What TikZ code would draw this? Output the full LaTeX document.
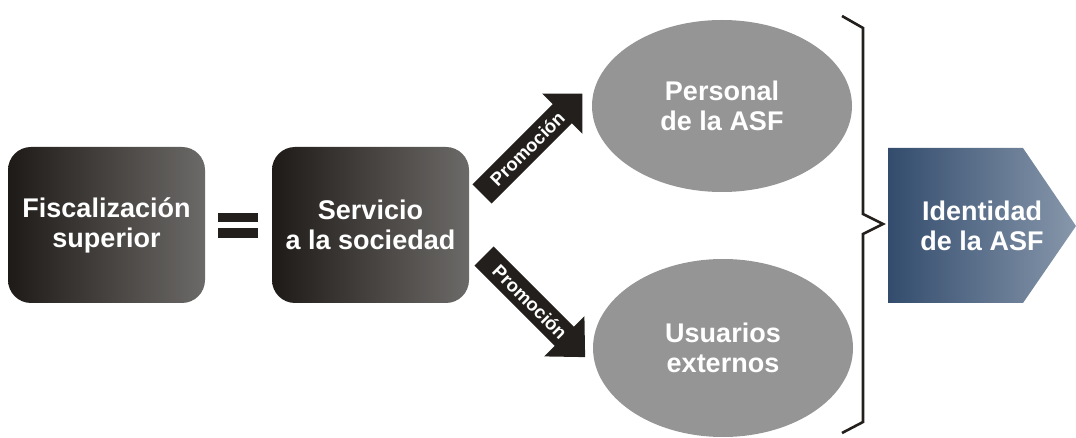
\documentclass[tikz,border=0pt]{standalone}
\usepackage{fontspec}
\setmainfont{Liberation Sans}
\usetikzlibrary{shapes.geometric}
\definecolor{boxdark}{HTML}{1E1A17}
\definecolor{boxlight}{HTML}{6C6A68}
\definecolor{ellgray}{HTML}{959595}
\definecolor{arrowdark}{HTML}{231F1C}
\definecolor{identdark}{HTML}{334C6D}
\definecolor{identlight}{HTML}{8797AB}
\begin{document}
\begin{tikzpicture}[x=1pt,y=-1pt,
  txt/.style={text=white,font=\fontsize{27}{30}\selectfont\bfseries,align=center},
  darkbox/.style={rounded corners=23pt,left color=boxdark,right color=boxlight,
    minimum width=197pt,minimum height=156pt,inner sep=0pt,txt},
  oval/.style={ellipse,fill=ellgray,inner sep=0pt,minimum width=260pt,txt},
  eqbar/.style={fill=arrowdark,inner sep=0pt,minimum width=40pt,minimum height=9.5pt},
  promo/.style={text=white,font=\fontsize{18.5}{20}\selectfont\bfseries,inner sep=0pt,transform shape},
  blockarrow/.style={fill=arrowdark},
  brace/.style={draw=arrowdark,line width=2.6pt,line join=miter}]
\useasboundingbox (0,0) rectangle (1076,438);

% boxes
\node[darkbox] (fisc) at (106.5,225) {Fiscalización\\superior};
\node[darkbox] (serv) at (370.5,225) {Servicio\\a la sociedad};

% equals sign
\node[eqbar] (eqtop) at (238,217.5) {};
\node[eqbar] (eqbot) at (238,233) {};

% ellipses
\node[oval,minimum height=172pt] (pers) at (722,106) {Personal\\de la ASF};
\node[oval,minimum height=178pt] (usu) at (723,348) {Usuarios\\externos};

% upper block arrow
\begin{scope}[shift={(482,194)},rotate=45]
  \fill[blockarrow] (0,-13.5) -- (113.5,-13.5) -- (113.5,-28.5) -- (142,0)
    -- (113.5,28.5) -- (113.5,13.5) -- (0,13.5) -- cycle;
  \node[promo] (promoup) at (64,0) {Promoción};
\end{scope}

% lower block arrow
\begin{scope}[shift={(484,256)},rotate=-45]
  \fill[blockarrow] (0,-13.5) -- (113.5,-13.5) -- (113.5,-28.5) -- (143,0)
    -- (113.5,28.5) -- (113.5,13.5) -- (0,13.5) -- cycle;
  \node[promo] (promodown) at (65,0) {Promoción};
\end{scope}

% brace
\coordinate (bt) at (842,16);
\coordinate (bb) at (842,433);
\coordinate (bm) at (883,224);
\draw[brace] (bt) -- (863,28) -- (863,214) -- (bm) -- (863,234) -- (863,422) -- (bb);

% identity pentagon
\shade[left color=identdark,right color=identlight]
  (888,148) -- (1023,148) -- (1076,226) -- (1023,303) -- (888,303) -- cycle;
\node[txt] (ident) at (982,226) {Identidad\\de la ASF};
\end{tikzpicture}
\end{document}
